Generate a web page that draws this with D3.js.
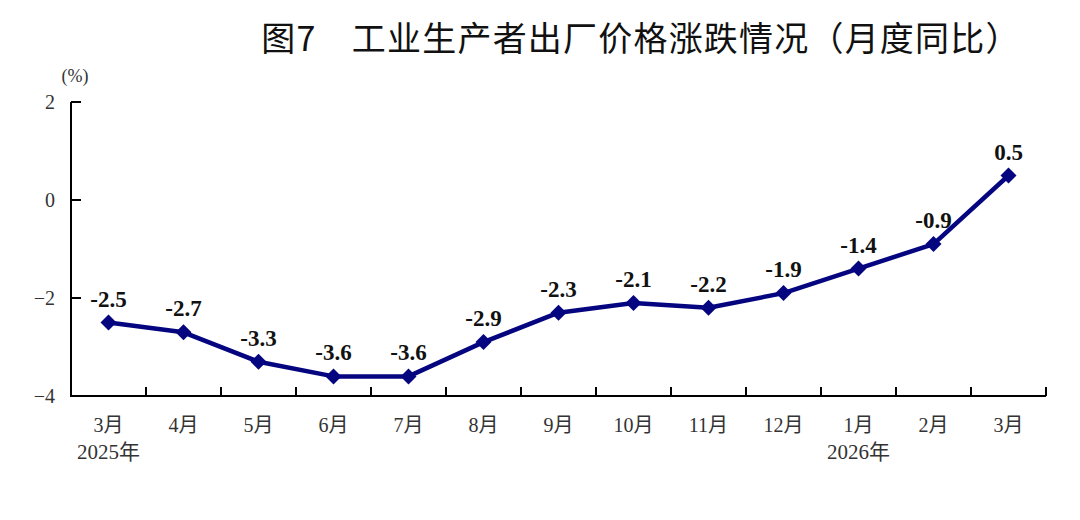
<!DOCTYPE html>
<html><head><meta charset="utf-8">
<script src="https://cdn.jsdelivr.net/npm/d3@7"></script>
<style>body{margin:0;background:#fff}</style>
</head><body><svg id="c" width="1080" height="520"></svg>
<script>
const months = ["3月","4月","5月","6月","7月","8月","9月","10月","11月","12月","1月","2月","3月"];
const yearLabels = [{idx:0,text:"2025年"},{idx:10,text:"2026年"}];
const values = [-2.5,-2.7,-3.3,-3.6,-3.6,-2.9,-2.3,-2.1,-2.2,-1.9,-1.4,-0.9,0.5];
const yTicks = [2,0,-2,-4];
const title = "图7　工业生产者出厂价格涨跌情况（月度同比）";
const unit = "(%)";

(function(){
const svg = d3.select("#c");
const pLeft = 71, pRight = 1046, pTop = 102, pBottom = 396;
const x = d3.scaleBand().domain(d3.range(months.length)).range([pLeft, pRight]).padding(0);
const y = d3.scaleLinear().domain([-4, 2]).range([pBottom, pTop]);
const color = "#050580";
const serif = "'Liberation Serif','Times New Roman',serif";
const cjk = "'Liberation Serif','Noto Sans CJK SC',serif";

svg.append("text").attr("x", 641).attr("y", 51).attr("text-anchor","middle")
  .attr("font-family","'Noto Sans CJK SC',sans-serif").attr("font-size",34)
  .attr("letter-spacing",1.2).attr("fill","#111")
  .text(title);

svg.append("text").attr("x", 75).attr("y", 82).attr("text-anchor","middle")
  .attr("font-family",cjk).attr("font-size",18).attr("fill","#333").text(unit);

svg.append("line").attr("x1",pLeft).attr("x2",pLeft).attr("y1",pTop).attr("y2",pBottom)
  .attr("stroke","#000").attr("stroke-width",2);
yTicks.forEach(t=>{
  svg.append("line").attr("x1",pLeft).attr("x2",pLeft+10).attr("y1",y(t)).attr("y2",y(t))
    .attr("stroke","#000").attr("stroke-width",2);
  svg.append("text").attr("x",55).attr("y",y(t)+7).attr("text-anchor","end")
    .attr("font-family",serif).attr("font-size",20).attr("fill","#333")
    .text(t<0 ? "\u2212"+Math.abs(t) : t);
});
svg.append("line").attr("x1",pLeft-1).attr("x2",pRight).attr("y1",pBottom).attr("y2",pBottom)
  .attr("stroke","#000").attr("stroke-width",2);
d3.range(1, months.length+1).forEach(i=>{
  const xx = x.step()*i + pLeft;
  svg.append("line").attr("x1",xx).attr("x2",xx).attr("y1",pBottom).attr("y2",pBottom-9)
    .attr("stroke","#000").attr("stroke-width",2);
});
months.forEach((m,i)=>{
  svg.append("text").attr("x",x(i)+x.bandwidth()/2).attr("y",432).attr("text-anchor","middle")
    .attr("font-family",cjk).attr("font-size",20).attr("fill","#333").text(m);
});
yearLabels.forEach(d=>{
  svg.append("text").attr("x",x(d.idx)+x.bandwidth()/2).attr("y",459).attr("text-anchor","middle")
    .attr("font-family",cjk).attr("font-size",21).attr("fill","#333").text(d.text);
});

const cx = i => x(i)+x.bandwidth()/2;
svg.append("path").datum(values)
  .attr("d", d3.line().x((d,i)=>cx(i)).y(d=>y(d)))
  .attr("fill","none").attr("stroke",color).attr("stroke-width",4.5).attr("stroke-linejoin","round");
svg.selectAll(".pt").data(values).enter().append("path")
  .attr("d", d3.symbol(d3.symbolSquare, 128))
  .attr("transform",(d,i)=>`translate(${cx(i)},${y(d)}) rotate(45)`)
  .attr("fill",color);
svg.selectAll(".lb").data(values).enter().append("text")
  .attr("x",(d,i)=>cx(i)).attr("y",d=>y(d)-16).attr("text-anchor","middle")
  .attr("font-family",serif).attr("font-weight","bold").attr("font-size",23).attr("fill","#111")
  .text(d=>d.toFixed(1));
})();
</script></body></html>
